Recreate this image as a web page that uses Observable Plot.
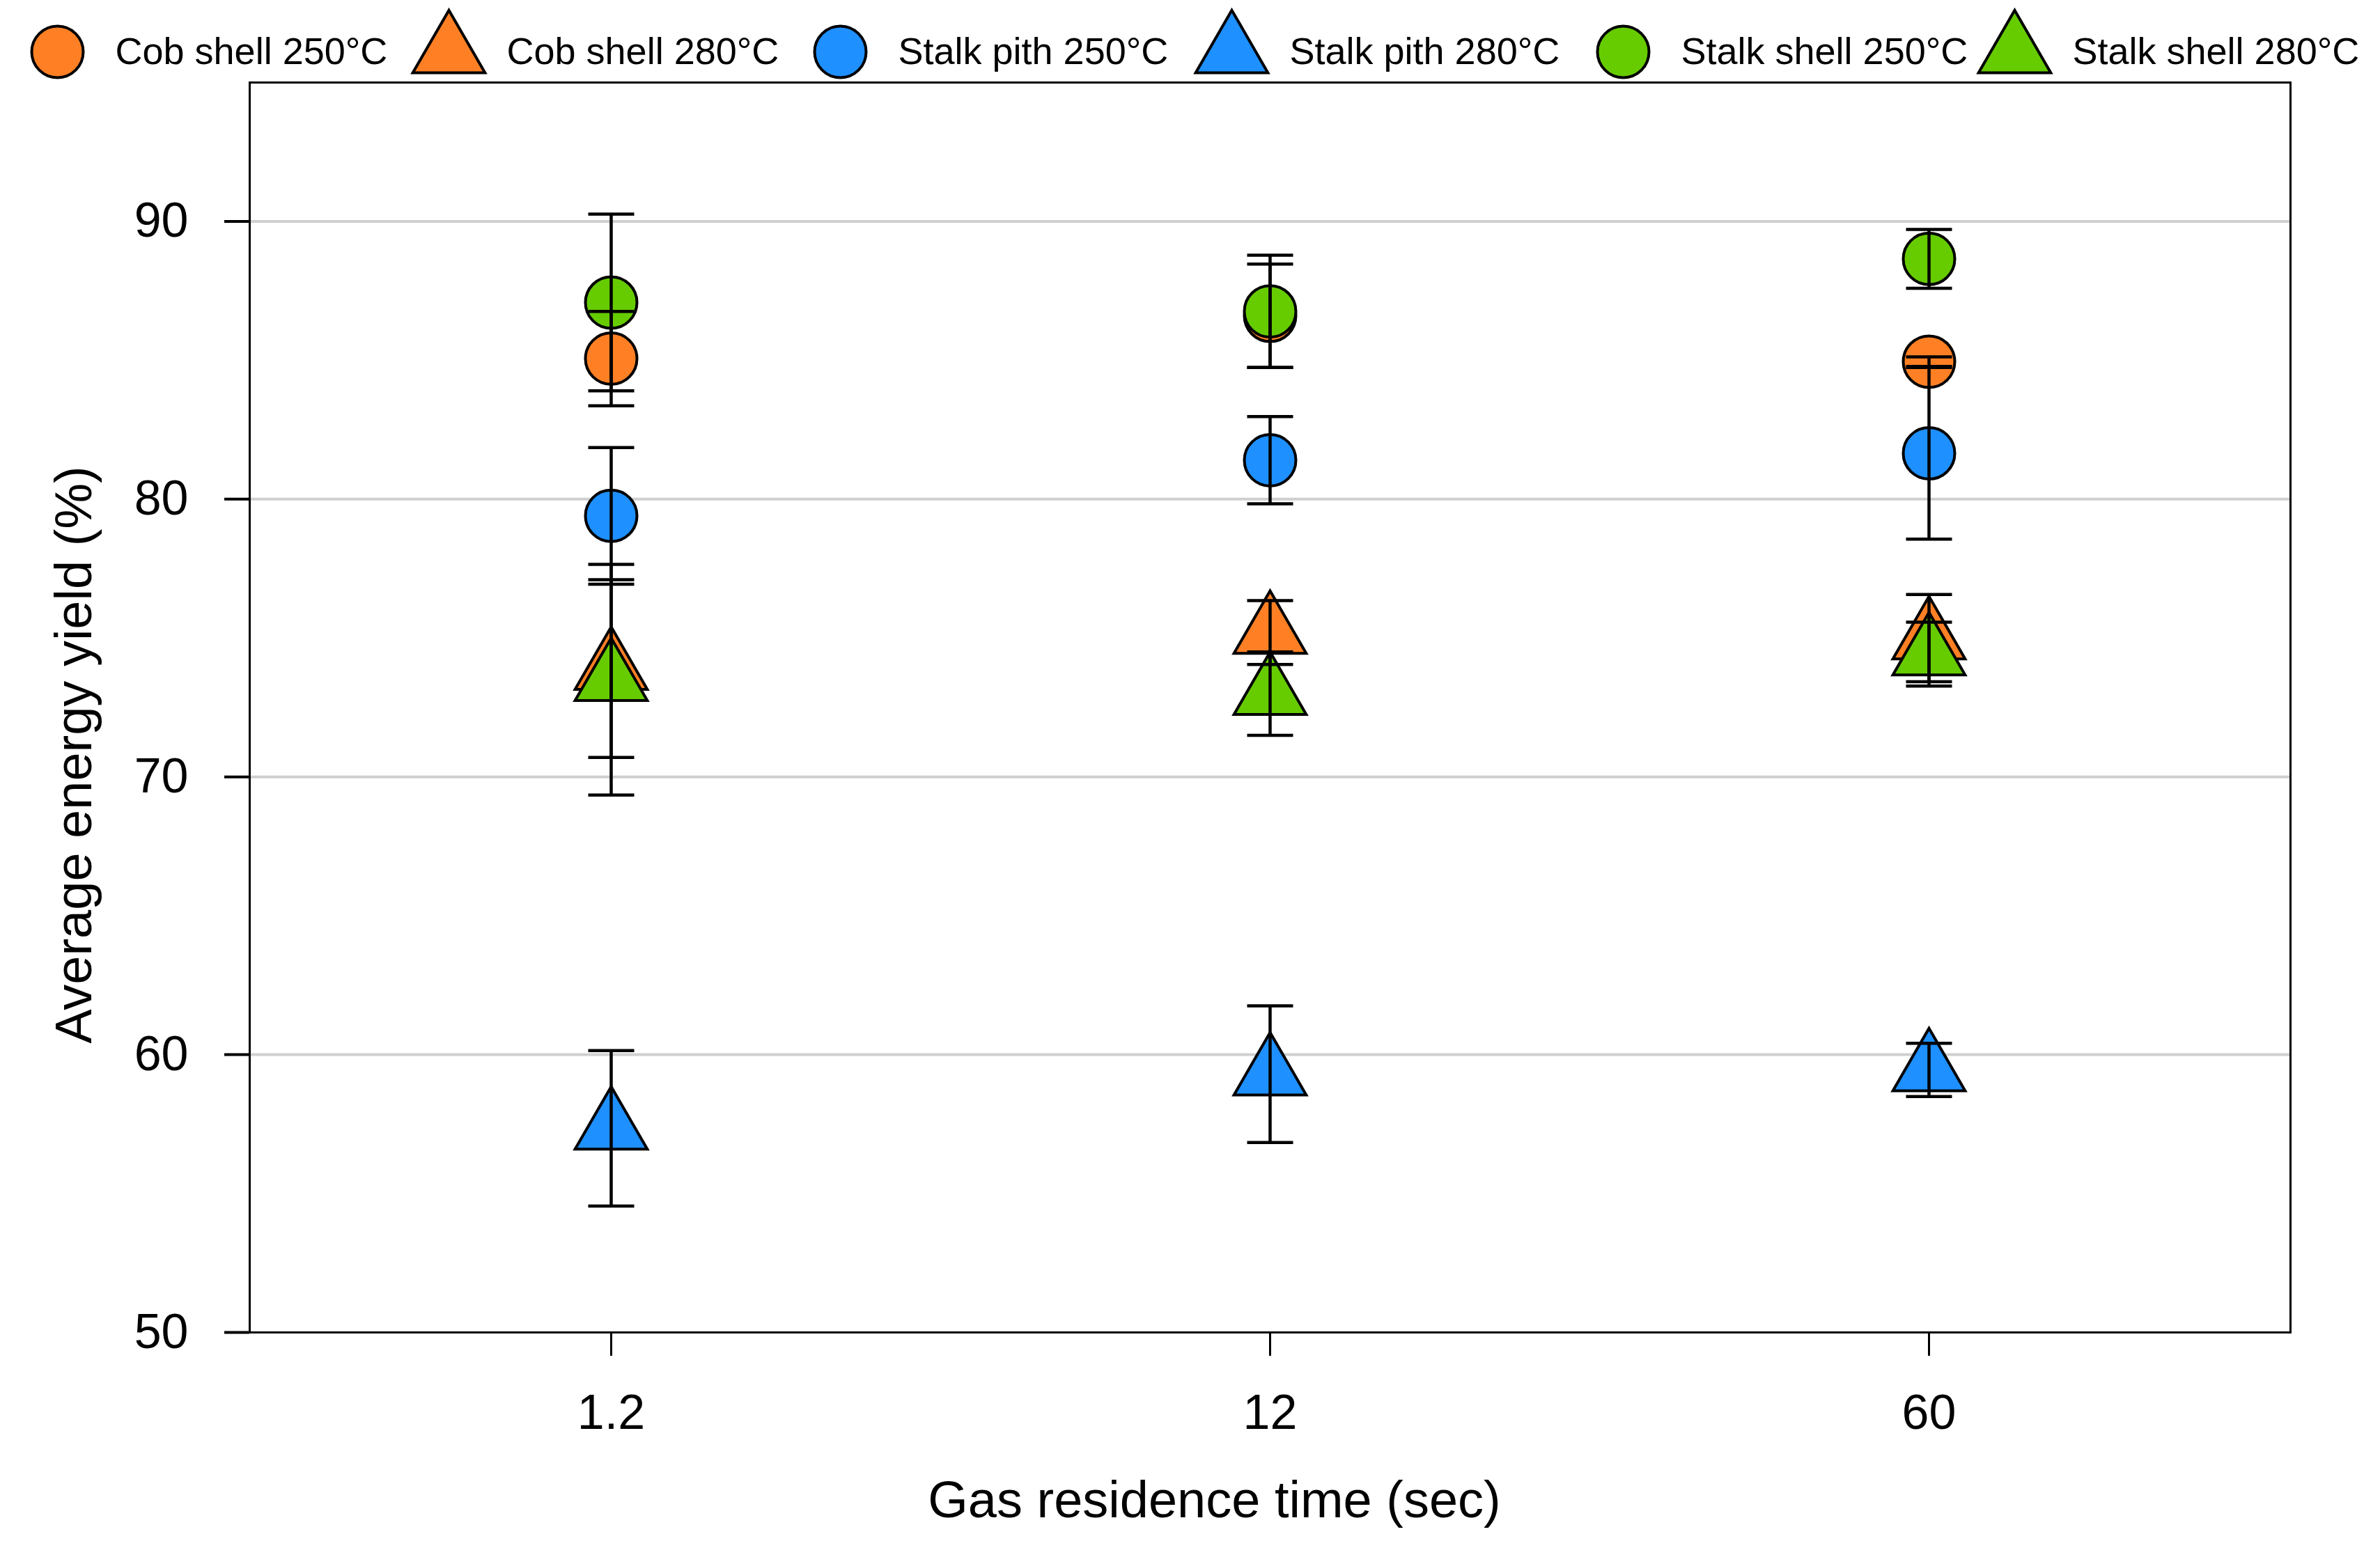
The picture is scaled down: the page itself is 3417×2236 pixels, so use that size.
<!DOCTYPE html>
<html>
<head>
<meta charset="utf-8">
<script src="https://cdn.jsdelivr.net/npm/d3@7"></script>
<script src="https://cdn.jsdelivr.net/npm/@observablehq/plot@0.6"></script>
<style>
  html, body { margin: 0; padding: 0; background: white; }
  body { font-family: "Liberation Sans", Arial, sans-serif; }
  #chart svg { display: block; }
</style>
</head>
<body>
<div id="chart"></div>
<script>
// ---- data ----
const times = ["1.2", "12", "60"];
const seriesNames = ["Cob shell 250°C", "Cob shell 280°C", "Stalk pith 250°C", "Stalk pith 280°C", "Stalk shell 250°C", "Stalk shell 280°C"];

const cobShell250 = [85.06, 86.6, 84.95];
const cobShell250Err = [1.7, 1.86, 0.17];
const cobShell280 = [73.9, 75.2, 75.0];
const cobShell280Err = [3.2, 1.15, 1.57];
const stalkPith250 = [79.4, 81.4, 81.65];
const stalkPith250Err = [2.46, 1.57, 3.09];
const stalkPith280 = [57.35, 59.3, 59.45];
const stalkPith280Err = [2.8, 2.46, 0.96];
const stalkShell250 = [87.08, 86.76, 88.65];
const stalkShell250Err = [3.18, 2.02, 1.06];
const stalkShell280 = [73.5, 73.0, 74.42];
const stalkShell280Err = [4.15, 1.5, 1.15];

const yTicks = [50, 60, 70, 80, 90];
const gridValues = [60, 70, 80, 90];

// ---- styles ----
const seriesColors = ["#FF8024", "#FF8024", "#1E90FF", "#1E90FF", "#66CC00", "#66CC00"];
const font = "'Liberation Sans', Arial, sans-serif";

// ---- table built from the arrays ----
const means = [cobShell250, cobShell280, stalkPith250, stalkPith280, stalkShell250, stalkShell280];
const errs = [cobShell250Err, cobShell280Err, stalkPith250Err, stalkPith280Err, stalkShell250Err, stalkShell280Err];
const rows = [];
seriesNames.forEach((s, i) => {
  times.forEach((t, j) => {
    rows.push({series: s, shape: s.includes("250") ? "circle" : "triangle", time: t, mean: means[i][j], err: errs[i][j]});
  });
});
const legendRows = seriesNames.map(s => ({series: s, shape: s.includes("250") ? "circle" : "triangle"}));

// horizontal cap symbol for error bars
const capSymbol = {draw(ctx) { ctx.moveTo(-33, 0); ctx.lineTo(33, 0); }};

const colorScale = {domain: seriesNames, range: seriesColors};

// ---- legend ----
const legend = Plot.plot({
  width: 3417, height: 112,
  marginTop: 38, marginBottom: 2, marginLeft: 81, marginRight: 525,
  style: {fontFamily: font, overflow: "visible", background: "transparent"},
  x: {type: "point", domain: seriesNames, padding: 0, axis: null},
  color: colorScale,
  marks: [
    Plot.dot(legendRows.filter(d => d.shape === "circle"), {x: "series", fill: "series", symbol: "circle", r: 37, stroke: "black", strokeWidth: 4}),
    Plot.dot(legendRows.filter(d => d.shape === "triangle"), {x: "series", fill: "series", symbol: "triangle", r: 38.5, stroke: "black", strokeWidth: 4}),
    Plot.text(seriesNames, {x: d => d, text: d => d, dx: 83, textAnchor: "start", fontSize: 54, fill: "black"})
  ]
});

// ---- main chart ----
const chart = Plot.plot({
  width: 3417, height: 2124,
  marginTop: 6, marginLeft: 358, marginRight: 129, marginBottom: 323,
  style: {fontFamily: font, background: "transparent", overflow: "visible"},
  x: {type: "point", domain: times, padding: 0.548},
  y: {domain: [50, 95]},
  color: colorScale,
  marks: [
    Plot.ruleY(gridValues, {stroke: "#cfcfcf", strokeWidth: 4}),
    Plot.frame({stroke: "black", strokeWidth: 3}),
    Plot.dot(rows.filter(d => d.shape === "circle"), {x: "time", y: "mean", fill: "series", symbol: "circle", r: 37, stroke: "black", strokeWidth: 4}),
    Plot.dot(rows.filter(d => d.shape === "triangle"), {x: "time", y: "mean", fill: "series", symbol: "triangle", r: 38.5, stroke: "black", strokeWidth: 4}),
    Plot.ruleX(rows, {x: "time", y1: d => d.mean - d.err, y2: d => d.mean + d.err, stroke: "black", strokeWidth: 4.5}),
    Plot.dot(rows, {x: "time", y: d => d.mean + d.err, symbol: capSymbol, stroke: "black", fill: "none", strokeWidth: 4.5}),
    Plot.dot(rows, {x: "time", y: d => d.mean - d.err, symbol: capSymbol, stroke: "black", fill: "none", strokeWidth: 4.5}),
    Plot.axisY({ticks: yTicks, tickSize: 36, tickPadding: 52, fontSize: 70, strokeWidth: 4, label: null, fill: "black"}),
    Plot.axisX({tickSize: 34, tickPadding: 55, fontSize: 70, strokeWidth: 3, label: null, fill: "black"}),
    Plot.text(["Gas residence time (sec)"], {frameAnchor: "bottom", lineAnchor: "bottom", textAnchor: "middle", dx: -80, dy: 265, fontSize: 74, fill: "black"}),
    Plot.text(["Average energy yield (%)"], {frameAnchor: "left", rotate: -90, lineAnchor: "bottom", textAnchor: "middle", dx: -228, dy: 68, fontSize: 74, fill: "black"})
  ]
});

const container = document.getElementById("chart");
container.appendChild(legend);
container.appendChild(chart);
</script>
</body>
</html>
